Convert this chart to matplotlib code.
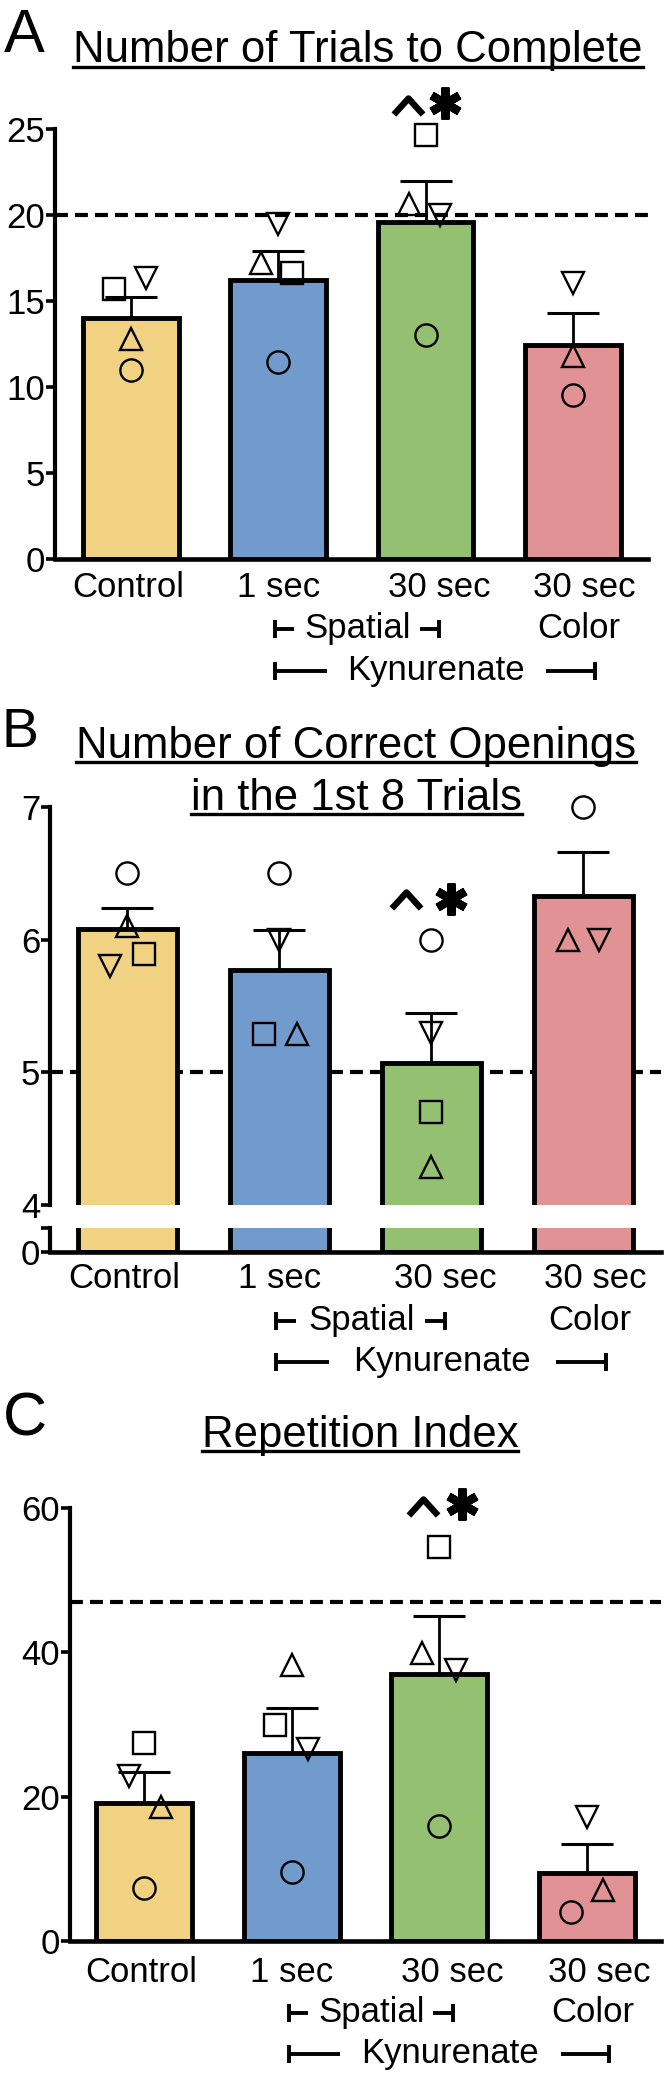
import matplotlib
matplotlib.use('Agg')
import matplotlib.pyplot as plt
import matplotlib.transforms as mtransforms
from matplotlib.lines import Line2D
from matplotlib.path import Path
from matplotlib.markers import MarkerStyle
import numpy as np

W, H = 666, 2078
plt.rcParams['font.family'] = ['Liberation Sans', 'DejaVu Sans']

# ---------------- data ----------------
groups_row1 = ['Control', '1 sec', '30 sec', '30 sec']
groups_row2 = ['', '', '', 'Color']
colors = ['#F0D282', '#719ACD', '#94C072', '#E09294']

# Panel A: Number of Trials to Complete
a_mean = [14.0, 16.2, 19.55, 12.45]
a_sem = [1.2, 1.7, 2.4, 1.85]
a_circle = [11.0, 11.45, 13.0, 9.5]
a_square = [15.7, 16.6, 24.6, np.nan]
a_up = [12.8, 17.2, 20.6, 11.8]
a_down = [16.3, 19.45, 20.0, 16.0]
a_ref = 20
a_yticks = [0, 5, 10, 15, 20, 25]

# Panel B: Number of Correct Openings in the 1st 8 Trials
b_mean = [6.08, 5.77, 5.07, 6.33]
b_sem = [0.16, 0.30, 0.38, 0.33]
b_circle = [6.5, 6.5, 6.0, 7.0]
b_square = [5.89, 5.29, 4.7, np.nan]
b_up = [6.1, 5.29, 4.29, 6.0]
b_down = [5.8, 6.0, 5.3, 6.0]
b_ref = 5
b_yticks = [4, 5, 6, 7]

# Panel C: Repetition Index
c_mean = [19.1, 26.1, 37.0, 9.4]
c_sem = [4.3, 6.2, 8.1, 4.0]
c_circle = [7.3, 9.5, 16.0, 4.0]
c_square = [27.5, 30.0, 54.6, np.nan]
c_up = [18.5, 38.3, 39.9, 7.0]
c_down = [22.9, 26.6, 37.6, 17.2]
c_ref = 47
c_yticks = [0, 20, 40, 60]

# horizontal jitter of individual animals (layout)
a_jit = {'o': [0, 0, 0, 0], 's': [-0.115, 0.095, 0, 0], '^': [0, -0.115, -0.11, 0], 'v': [0.10, 0, 0.10, 0]}
b_jit = {'o': [0, 0, 0, 0], 's': [0.11, -0.10, 0, 0], '^': [0, 0.12, 0, -0.10], 'v': [-0.11, 0, 0, 0.10]}
c_jit = {'o': [0, 0, 0, -0.11], 's': [0, -0.11, 0, 0], '^': [0.115, 0, -0.115, 0.11], 'v': [-0.10, 0.11, 0.115, 0]}

fig = plt.figure(figsize=(W / 100, H / 100), dpi=100)


def add_axes_px(left, right, top, bottom):
    return fig.add_axes([left / W, 1 - bottom / H, (right - left) / W, (bottom - top) / H])


def fy(px):
    return 1 - px / H


def style_axes(ax, yticks, ylim, xlim, bottom_spine=True):
    ax.set_xlim(*xlim)
    ax.set_ylim(*ylim)
    ax.spines['top'].set_visible(False)
    ax.spines['right'].set_visible(False)
    ax.spines['left'].set_linewidth(3.0)
    ax.spines['bottom'].set_linewidth(3.3)
    ax.spines['bottom'].set_visible(bottom_spine)
    ax.set_xticks([])
    ax.set_yticks(yticks)
    ax.tick_params(axis='y', length=6.5, width=2.6, labelsize=25, pad=0.5, direction='out')
    ax.set_facecolor('none')


def draw_data(ax, mean, sem, circ, sq, up, down, jit, ref, points=True):
    x = np.arange(4)
    ax.bar(x, mean, width=0.65, color=colors, edgecolor='black', linewidth=3.5, zorder=2)
    if ref is not None:
        ax.axhline(ref, color='black', lw=3.0, dashes=(3.1, 1.7), zorder=1)
    if not points:
        return
    ax.errorbar(x, mean, yerr=[np.zeros(4), sem], fmt='none', ecolor='black',
                elinewidth=2.0, capsize=18.5, capthick=2.2, zorder=3)
    for m, vals in (('o', circ), ('s', sq), ('^', up), ('v', down)):
        ax.plot(x + np.array(jit[m]), vals, linestyle='none', marker=m, ms=16,
                mfc='none', mec='black', mew=1.7, zorder=4, clip_on=False)


caret = MarkerStyle(Path([(-1, -0.55), (0, 0.55), (1, -0.55)],
                         [Path.MOVETO, Path.LINETO, Path.LINETO]), joinstyle='miter')


def sig(ax, xc, yc, xa, ya):
    ax.plot([xc], [yc], marker=caret, ms=21, mfc='none', mec='black', mew=4.6,
            linestyle='none', clip_on=False, zorder=5)
    ax.plot([xa], [ya], marker=(6, 2, 0), ms=23, mec='black', mew=6.0,
            linestyle='none', clip_on=False, zorder=5)


def xlabels(ax, zero_px, rows):
    tr = mtransforms.blended_transform_factory(ax.transData, fig.transFigure)
    r1, r2, r3 = rows
    offs1 = [-0.02, 0.0, 0.09, 0.08]
    offs2 = [0, 0, 0, 0.04]
    for i in range(4):
        ax.text(i + offs1[i], fy(zero_px + r1), groups_row1[i], transform=tr,
                ha='center', va='baseline', fontsize=25)
        if groups_row2[i]:
            ax.text(i + offs2[i], fy(zero_px + r2), groups_row2[i], transform=tr,
                    ha='center', va='baseline', fontsize=25)
    lw = 2.8
    # Spatial bracket row
    yb = zero_px + r2
    ym = fy(yb - 9)
    yt, ybt = fy(yb - 18), fy(yb)
    ax.text(1.54, fy(yb), 'Spatial', transform=tr, ha='center', va='baseline', fontsize=25)
    for xs, ys in (([0.98, 0.98], [yt, ybt]), ([0.98, 1.11], [ym, ym]),
                   ([1.96, 2.09], [ym, ym]), ([2.09, 2.09], [yt, ybt])):
        fig.add_artist(Line2D(xs, ys, transform=tr, color='black', lw=lw, solid_capstyle='butt'))
    # Kynurenate row
    yb = zero_px + r3
    ym = fy(yb - 9)
    yt, ybt = fy(yb - 18), fy(yb)
    ax.text(2.07, fy(yb), 'Kynurenate', transform=tr, ha='center', va='baseline', fontsize=25)
    for xs, ys in (([0.98, 0.98], [yt, ybt]), ([0.98, 1.33], [ym, ym]),
                   ([2.82, 3.15], [ym, ym]), ([3.15, 3.15], [yt, ybt])):
        fig.add_artist(Line2D(xs, ys, transform=tr, color='black', lw=lw, solid_capstyle='butt'))


# ---------------- Panel A ----------------
axA = add_axes_px(55, 648, 128.5, 559)
style_axes(axA, a_yticks, (0, 25), (-0.516, 3.51))
draw_data(axA, a_mean, a_sem, a_circle, a_square, a_up, a_down, a_jit, a_ref)
sig(axA, 2 - 0.12, 26.3, 2 + 0.13, 26.5)
xlabels(axA, 559, (38, 79, 121))

# ---------------- Panel B ----------------
axB = add_axes_px(50, 661, 807, 1205)
style_axes(axB, b_yticks, (4, 7), (-0.507, 3.51), bottom_spine=False)
draw_data(axB, b_mean, b_sem, b_circle, b_square, b_up, b_down, b_jit, b_ref)
sig(axB, 2 - 0.165, 6.3, 2 + 0.13, 6.31)
axB2 = add_axes_px(50, 661, 1228, 1252)
style_axes(axB2, [0, 0.18], (0, 0.18), (-0.507, 3.51))
axB2.set_yticklabels(['0', ''])
draw_data(axB2, b_mean, b_sem, b_circle, b_square, b_up, b_down, b_jit, None, points=False)
xlabels(axB2, 1252, (36, 78, 119))

# ---------------- Panel C ----------------
axC = add_axes_px(70, 661, 1508, 1941)
style_axes(axC, c_yticks, (0, 60), (-0.5, 3.5))
draw_data(axC, c_mean, c_sem, c_circle, c_square, c_up, c_down, c_jit, c_ref)
sig(axC, 2 - 0.11, 60.1, 2 + 0.155, 60.5)
xlabels(axC, 1941, (41, 81, 122))

# ---------------- titles & panel letters ----------------
titles = [('Number of Trials to Complete', 358, 62, 67),
          ('Number of Correct Openings', 356, 758, 762),
          ('in the 1st 8 Trials', 356, 810, 814),
          ('Repetition Index', 360, 1447, 1451)]
title_artists = []
for txt, xc, yb, yu in titles:
    t = fig.text(xc / W, fy(yb), txt, ha='center', va='baseline', fontsize=31.5)
    title_artists.append((t, yu))

for letter, xl, yb, fs in (('A', 4, 52, 44), ('B', 1, 747, 40), ('C', 3, 1436, 44)):
    fig.text(xl / W, fy(yb), letter, ha='left', va='baseline', fontsize=fs)

fig.canvas.draw()
renderer = fig.canvas.get_renderer()
for t, yu in title_artists:
    bb = t.get_window_extent(renderer)
    fig.add_artist(Line2D([bb.x0 / W, bb.x1 / W], [fy(yu), fy(yu)],
                          transform=fig.transFigure, color='black', lw=2.4))

fig.savefig('out.png', dpi=100)
